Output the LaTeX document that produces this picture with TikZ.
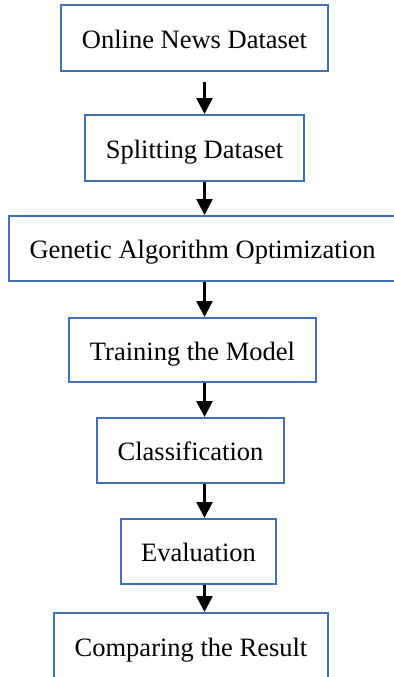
\documentclass[tikz,border=0pt]{standalone}
\usepackage{fontspec}
\setmainfont{Liberation Serif}
\usetikzlibrary{arrows.meta, calc}
\definecolor{boxblue}{RGB}{65,113,177}

\begin{document}
\begin{tikzpicture}[x=0.5pt, y=-0.5pt,
	font=\fontsize{13.25}{15}\selectfont,
	stage/.style={draw=boxblue, line width=1pt, fill=white, inner sep=0pt, minimum height=33pt, text height=10.3pt, text depth=0pt},
	flow/.style={line width=1.3pt, -{Triangle[width=8pt,length=8pt]}}]
	\def\ax{204.5}

	\clip (0,0) rectangle (394,677);
	\useasboundingbox (0,0) rectangle (394,677);

	\node[stage, minimum width=133.5pt]	(data)	at (194.5,38)	{Online News Dataset};
	\node[stage, minimum width=109.5pt]	(split)	at (194.5,148)	{Splitting Dataset};
	\node[stage, minimum width=193.5pt, minimum height=32.5pt]	(ga)	at (202.5,248.5)	{Genetic Algorithm Optimization};
	\node[stage, minimum width=123.5pt, minimum height=32pt]	(train)	at (192.5,350)	{Training the Model};
	\node[stage, minimum width=93.5pt, minimum height=32.5pt]	(class)	at (190.5,450.5)	{Classification};
	\node[stage, minimum width=77.5pt, minimum height=32.5pt]	(eval)	at (198.5,551.5)	{Evaluation};
	\node[stage, minimum width=137pt]	(comp)	at (191,646)	{Comparing the Result};

	\coordinate (ax) at (\ax,0);
	\draw[flow]	($(data.south -| ax)+(0,10)$) -- (split.north -| ax);
	\foreach \a/\b in {split/ga, ga/train, train/class, class/eval, eval/comp}
		\draw[flow]	(\a.south -| ax) -- (\b.north -| ax);
\end{tikzpicture}
\end{document}
